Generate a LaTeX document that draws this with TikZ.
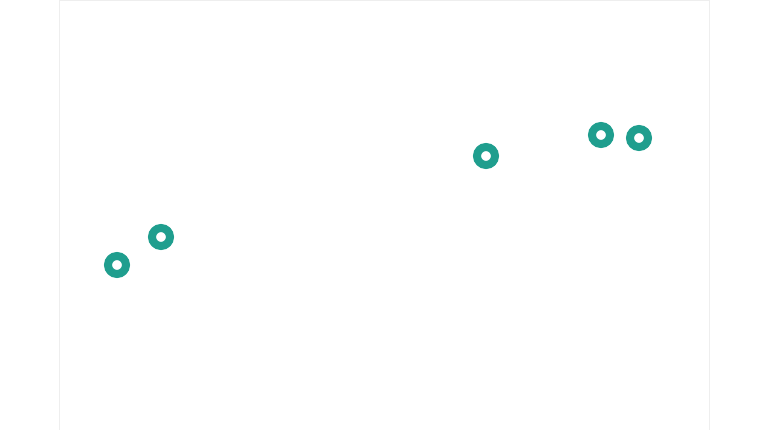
\documentclass[tikz,border=0pt]{standalone}
\definecolor{teal1}{HTML}{1F9E8E}
\definecolor{frame1}{HTML}{EEEEEE}
\begin{document}
\begin{tikzpicture}[x=1pt,y=-1pt,
  dot/.style={circle,draw=teal1,fill=white,line width=8pt,minimum size=18pt,inner sep=0pt}]
\useasboundingbox (0,0) rectangle (768,430);
\draw[frame1,line width=1pt] (59,0.5) rectangle (709,432);
\node[dot] (a) at (117,265) {};
\node[dot] (b) at (161,237) {};
\node[dot] (c) at (486,156) {};
\node[dot] (d) at (601,135) {};
\node[dot] (e) at (639,138) {};
\end{tikzpicture}
\end{document}
